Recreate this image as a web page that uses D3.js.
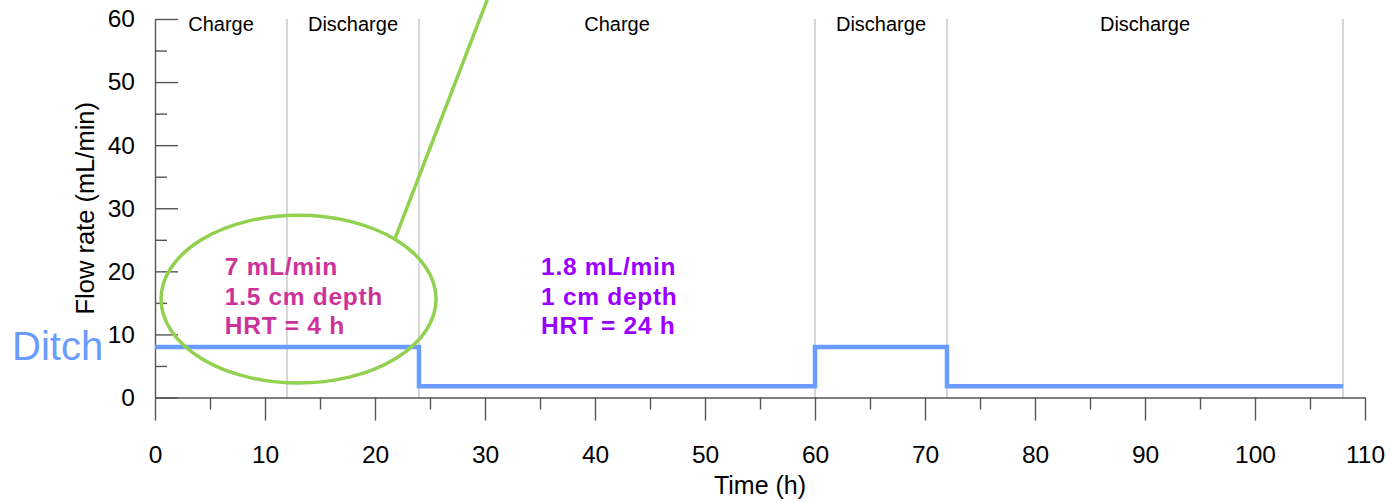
<!DOCTYPE html>
<html>
<head>
<meta charset="utf-8">
<script src="https://cdn.jsdelivr.net/npm/d3@7/dist/d3.min.js"></script>
<style>
  html, body { margin: 0; padding: 0; background: #fff; }
  svg { display: block; }
  text { font-family: "Liberation Sans", Arial, Helvetica, sans-serif; }
</style>
</head>
<body>
<svg id="chart" width="1391" height="502"></svg>
<script>
// ---- data ----
const timeH    = [0, 24, 24, 60, 60, 72, 72, 108];
const flowRate = [8, 8, 1.8, 1.8, 8, 8, 1.8, 1.8];
const phaseBounds = [0, 12, 24, 60, 72, 108];
const phaseLabels = ["Charge", "Discharge", "Charge", "Discharge", "Discharge"];
const xTicks = [0, 10, 20, 30, 40, 50, 60, 70, 80, 90, 100, 110];
const xMinorTicks = [5, 15, 25, 35, 45, 55, 65, 75, 85, 95, 105];
const yTicks = [0, 10, 20, 30, 40, 50, 60];
const yMinorTicks = [5, 15, 25, 35, 45, 55];
const seriesName = "Ditch";
const note1Lines = ["7 mL/min", "1.5 cm depth", "HRT = 4 h"];
const note2Lines = ["1.8 mL/min", "1 cm depth", "HRT = 24 h"];
// annotation geometry in data units (time h, flow mL/min)
const calloutEllipse = { cx: 13.05, cy: 15.6, rx: 12.5, ry: 13.3 };
const calloutLine = [[21.85, 25.3], [30.3, 63.5]];
const note1Pos = [6.35, 19.4];
const note2Pos = [35.1, 19.4];

// ---- layout ----
const svg = d3.select("#chart");
const x = d3.scaleLinear().domain([0, 110]).range([155, 1365]);
const y = d3.scaleLinear().domain([0, 60]).range([397.5, 19]);
const axisColor = "#555";

// phase separators
svg.append("g").selectAll("line")
  .data(phaseBounds.slice(1))
  .join("line")
  .attr("x1", d => x(d)).attr("x2", d => x(d))
  .attr("y1", y(60)).attr("y2", y(0))
  .attr("stroke", "#bdbdbd").attr("stroke-width", 1.2);

// phase labels
svg.append("g").selectAll("text")
  .data(phaseLabels)
  .join("text")
  .attr("x", (d, i) => x((phaseBounds[i] + phaseBounds[i + 1]) / 2))
  .attr("y", 30.5)
  .attr("text-anchor", "middle")
  .attr("font-size", 20)
  .attr("fill", "#000")
  .text(d => d);

// y axis
const yAxis = svg.append("g").attr("transform", `translate(${x(0)},0)`)
  .call(d3.axisLeft(y).tickValues(yTicks).tickSizeInner(-23).tickSizeOuter(0).tickPadding(20));
const yMinor = svg.append("g").attr("transform", `translate(${x(0)},0)`)
  .call(d3.axisLeft(y).tickValues(yMinorTicks).tickSizeInner(-12).tickSizeOuter(0).tickFormat(""));
yMinor.select(".domain").remove();

// x axis
const xAxis = svg.append("g").attr("transform", `translate(0,${y(0)})`)
  .call(d3.axisBottom(x).tickValues(xTicks).tickSizeInner(23).tickSizeOuter(0).tickPadding(25));
const xMinor = svg.append("g").attr("transform", `translate(0,${y(0)})`)
  .call(d3.axisBottom(x).tickValues(xMinorTicks).tickSizeInner(12).tickSizeOuter(0).tickFormat(""));
xMinor.select(".domain").remove();

[yAxis, yMinor, xAxis, xMinor].forEach(g => {
  g.selectAll("path, line").attr("stroke", axisColor).attr("stroke-width", 1.4);
  g.selectAll("text").attr("font-size", 24.5).attr("fill", "#000")
    .attr("font-family", '"Liberation Sans", Arial, sans-serif');
});

// axis titles
svg.append("text")
  .attr("x", x(55)).attr("y", 494)
  .attr("text-anchor", "middle").attr("font-size", 25).attr("fill", "#000")
  .text("Time (h)");
svg.append("text")
  .attr("transform", `translate(93.5,${(y(0) + y(60)) / 2}) rotate(-90)`)
  .attr("text-anchor", "middle").attr("font-size", 25.5).attr("fill", "#000")
  .text("Flow rate (mL/min)");

// series line
const pts = timeH.map((t, i) => [t, flowRate[i]]);
svg.append("path")
  .datum(pts)
  .attr("d", d3.line().x(d => x(d[0])).y(d => y(d[1])))
  .attr("fill", "none")
  .attr("stroke", "#6a9cff")
  .attr("stroke-width", 4.5)
  .attr("stroke-linejoin", "miter");

// series label
svg.append("text")
  .attr("x", 12).attr("y", 360)
  .attr("font-size", 40).attr("fill", "#6a9cff")
  .text(seriesName);

// callout ellipse and pointer
svg.append("ellipse")
  .attr("cx", x(calloutEllipse.cx)).attr("cy", y(calloutEllipse.cy))
  .attr("rx", x(calloutEllipse.rx) - x(0)).attr("ry", y(0) - y(calloutEllipse.ry))
  .attr("fill", "none").attr("stroke", "#92d050").attr("stroke-width", 3.5);
svg.append("line")
  .attr("x1", x(calloutLine[0][0])).attr("y1", y(calloutLine[0][1]))
  .attr("x2", x(calloutLine[1][0])).attr("y2", y(calloutLine[1][1]))
  .attr("stroke", "#92d050").attr("stroke-width", 3.5);

// notes
function note(lines, pos, color) {
  const t = svg.append("text")
    .attr("x", x(pos[0])).attr("y", y(pos[1]))
    .attr("font-size", 24.5).attr("font-weight", "bold")
    .attr("letter-spacing", 0.7)
    .attr("fill", color);
  lines.forEach((l, i) => {
    t.append("tspan").attr("x", x(pos[0])).attr("dy", i === 0 ? 0 : 29.5).text(l);
  });
}
note(note1Lines, note1Pos, "#cc3399");
note(note2Lines, note2Pos, "#9900ff");
</script>
</body>
</html>
